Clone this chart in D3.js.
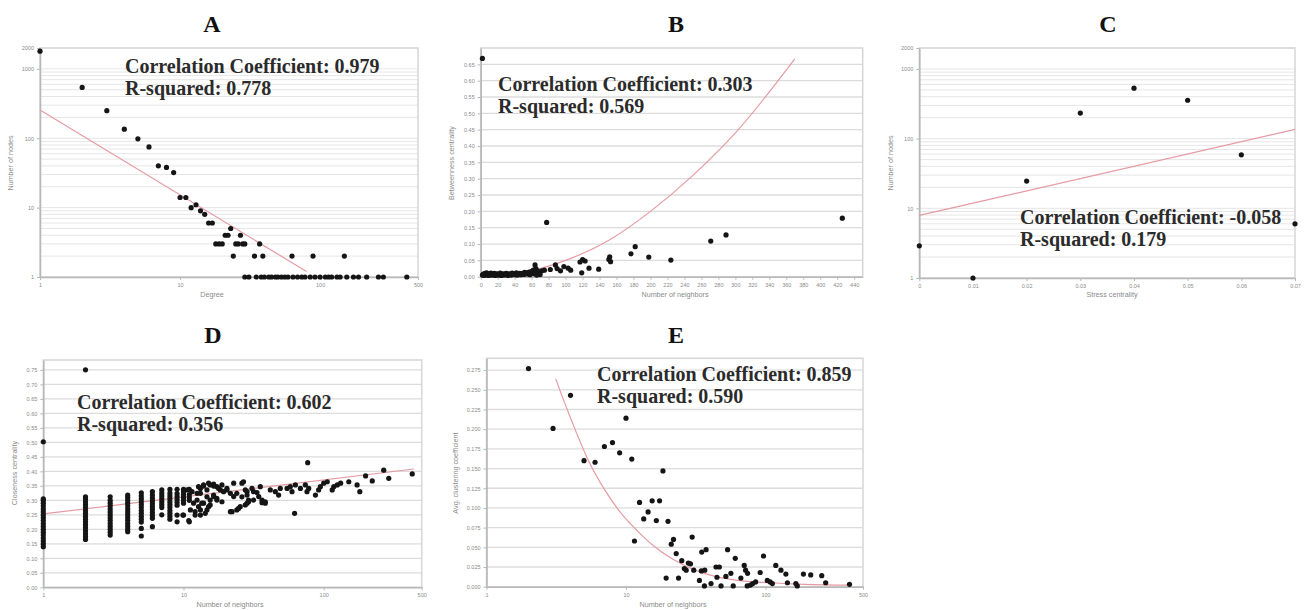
<!DOCTYPE html>
<html><head><meta charset="utf-8">
<script src="https://cdn.jsdelivr.net/npm/d3@7"></script>
<style>body{margin:0;background:#fff}</style>
</head><body>
<svg id="chart" width="1306" height="610"></svg>
<script>
// ---------------- DATA ----------------
const panelTitles = ["A", "B", "C", "D", "E"];
const statTexts = [
  ["Correlation Coefficient: 0.979", "R-squared: 0.778"],
  ["Correlation Coefficient: 0.303", "R-squared: 0.569"],
  ["Correlation Coefficient: -0.058", "R-squared: 0.179"],
  ["Correlation Coefficient: 0.602", "R-squared: 0.356"],
  ["Correlation Coefficient: 0.859", "R-squared: 0.590"]
];
const xAxisTitles = ["Degree", "Number of neighbors", "Stress centrality", "Number of neighbors", "Number of neighbors"];
const yAxisTitles = ["Number of nodes", "Betweenness centrality", "Number of nodes", "Closeness centrality", "Avg. clustering coefficient"];

// tick labels
const logCountTicks = [1, 10, 100, 1000, 2000];
const logNeighborTicks = [1, 10, 100, 500];
const betweenXTicks = [0,20,40,60,80,100,120,140,160,180,200,220,240,260,280,300,320,340,360,380,400,420,440];
const betweenYTicks = [0,0.05,0.10,0.15,0.20,0.25,0.30,0.35,0.40,0.45,0.50,0.55,0.60,0.65];
const stressXTicks = [0,0.01,0.02,0.03,0.04,0.05,0.06,0.07];
const closenessYTicks = [0,0.05,0.10,0.15,0.20,0.25,0.30,0.35,0.40,0.45,0.50,0.55,0.60,0.65,0.70,0.75];
const clusteringYTicks = [0,0.025,0.050,0.075,0.100,0.125,0.150,0.175,0.200,0.225,0.250,0.275];

// A: degree vs number of nodes
const degreePoints = [
  [1,1800],[2,540],[3,250],[4,135],[5,98],[6,75],[7,40],[8,38],[9,32],[10,14],[11,14],[12,10],[13,11],
  [14,9],[15,8],[16,6],[17,6],[18,3],[19,3],[20,3],[21,4],[22,4],[23,5],[24,2],[25,3],[26,3],[27,4],
  [28,3],[29,3],[34,2],[37,3],[39,2],[63,2],[89,2],[149,2],
  [29,1],[31,1],[35,1],[38,1],[40,1],[43,1],[45,1],[48,1],[50,1],[53,1],[56,1],[59,1],[64,1],[69,1],
  [74,1],[78,1],[85,1],[92,1],[100,1],[109,1],[115,1],[121,1],[132,1],[139,1],[155,1],[173,1],[188,1],
  [215,1],[261,1],[283,1],[416,1]
];
const degreeTrend = [[1,255],[80,1.2]];

// B: neighbors vs betweenness
const betweennessPoints = [
  [2,0.668],[2,0.005],[3,0.008],[4,0.004],[5,0.010],[6,0.006],[7,0.012],[8,0.007],[9,0.004],[10,0.009],
  [11,0.006],[12,0.011],[13,0.005],[14,0.008],[15,0.006],[16,0.010],[17,0.004],[18,0.007],[19,0.009],
  [20,0.005],[21,0.008],[22,0.006],[23,0.011],[24,0.004],[25,0.007],[26,0.009],[27,0.005],[28,0.008],
  [29,0.006],[30,0.010],[31,0.007],[32,0.004],[33,0.009],[34,0.006],[35,0.008],[36,0.005],[37,0.011],
  [38,0.007],[39,0.009],[40,0.006],[41,0.008],[42,0.012],[43,0.005],[44,0.009],[45,0.007],[46,0.010],
  [47,0.006],[48,0.008],[50,0.011],[51,0.007],[52,0.013],[53,0.009],[55,0.012],[56,0.008],[57,0.014],
  [58,0.006],[60,0.016],[61,0.011],[62,0.020],[63,0.009],[64,0.036],[65,0.025],[66,0.005],[67,0.018],
  [68,0.012],[70,0.007],[72,0.018],[75,0.020],
  [77.7,0.166],[82,0.022],[88,0.036],[90,0.025],[94,0.018],[98,0.031],[103,0.026],[106,0.020],
  [117,0.045],[120,0.052],[123,0.048],[119,0.012],[127.6,0.026],[139,0.023],[151,0.053],[152,0.061],
  [153,0.046],[177,0.070],[182,0.092],[198,0.060],[224,0.051],[271,0.109],[289,0.128],[426,0.179]
];
const betweennessTrend = [[0,0],[50,0.013],[100,0.05],[150,0.11],[200,0.2],[250,0.31],[300,0.44],[370,0.667]];

// C: stress centrality vs number of nodes
const stressX = [0, 0.01, 0.02, 0.03, 0.04, 0.05, 0.06, 0.07];
const stressNodes = [2.9, 1, 24.6, 233, 531, 356, 58.6, 6.0];
const stressTrend = [[0,7.9],[0.07,136]];

// D: neighbors vs closeness (vertical columns at low degrees + scatter)
const closenessColumns = [
  [1,[0.14,0.15,0.16,0.17,0.18,0.19,0.20,0.21,0.22,0.23,0.24,0.25,0.26,0.27,0.28,0.29,0.30,0.305,0.502]],
  [2,[0.165,0.175,0.185,0.195,0.205,0.215,0.225,0.235,0.245,0.255,0.265,0.275,0.285,0.295,0.305,0.312,0.75]],
  [3,[0.18,0.19,0.20,0.21,0.22,0.23,0.24,0.25,0.26,0.27,0.28,0.29,0.30,0.312]],
  [4,[0.192,0.20,0.21,0.22,0.23,0.24,0.25,0.26,0.27,0.28,0.29,0.30,0.31,0.318]],
  [5,[0.177,0.203,0.225,0.235,0.245,0.255,0.265,0.275,0.285,0.295,0.305,0.315,0.326]],
  [6,[0.209,0.238,0.248,0.258,0.268,0.278,0.288,0.298,0.308,0.318,0.330]],
  [7,[0.25,0.275,0.285,0.295,0.305,0.315,0.325,0.336]],
  [8,[0.235,0.245,0.255,0.265,0.275,0.285,0.295,0.305,0.315,0.325,0.338]],
  [9,[0.226,0.249,0.283,0.293,0.303,0.313,0.323,0.338]],
  [10,[0.249,0.29,0.30,0.31,0.32,0.33,0.338]],
  [11,[0.226,0.30,0.31,0.32,0.338]]
];
const closenessPoints = [
  [10.6,0.336],[11.5,0.330],[12.5,0.324],[13.2,0.341],[13.9,0.349],[14.7,0.336],[15.5,0.353],[16.4,0.356],
  [17.3,0.347],[18.3,0.336],[19.3,0.330],[20.4,0.341],[21.6,0.324],[22.8,0.313],[24,0.324],[26.1,0.359],
  [27.6,0.336],[28.4,0.318],[11.8,0.290],[12.8,0.278],[13.9,0.290],[15.5,0.301],[16.4,0.313],[14.7,0.267],
  [13.2,0.249],[12.1,0.261],[10.9,0.230],[9.9,0.249],[11.2,0.267],[17.3,0.307],[18.8,0.295],[21.6,0.261],
  [24,0.267],[25.4,0.278],[28.4,0.290],[29.1,0.301],[31.6,0.330],[33.4,0.327],[36.3,0.292],[38.3,0.295],
  [34.4,0.313],[12.8,0.347],[13.9,0.353],[15.1,0.359],[16.4,0.349],[17.8,0.341],[13.2,0.324],[14.7,0.312],
  [16.4,0.318],[12.5,0.301],[13.5,0.290],[15.1,0.278],[13.2,0.267],[12.1,0.249],[14.3,0.255],[15.5,0.284],
  [17.3,0.301],[18.8,0.353],[20.4,0.336],[22.8,0.359],[22.2,0.261],[24.7,0.272],[26.1,0.312],[26.8,0.364],
  [27.6,0.284],[28.4,0.330],[29.1,0.295],[30.8,0.341],[31.6,0.301],[35.3,0.347],[36.3,0.301],[38.3,0.290],
  [41.6,0.336],[45.2,0.330],[47.7,0.318],[49,0.341],[54.8,0.341],[57.8,0.347],[59.4,0.330],[62.8,0.353],
  [68.2,0.341],[74,0.353],[76.9,0.430],[76,0.330],[78.2,0.341],[87.3,0.318],[92,0.336],[94.7,0.347],
  [100,0.359],[106,0.364],[115,0.336],[118,0.347],[125,0.353],[132,0.359],[151,0.364],[173,0.353],
  [181,0.330],[199,0.384],[222,0.367],[268,0.404],[291,0.376],[428,0.391],[62,0.255]
];
const closenessTrend = [[1,0.253],[440,0.408]];

// E: neighbors vs average clustering coefficient
const clusteringPoints = [
  [2,0.277],[3,0.201],[4,0.243],[5,0.160],[6,0.158],[7,0.178],[8,0.183],[9,0.170],[10,0.214],[11,0.162],
  [11.5,0.058],[12.5,0.107],[13.4,0.086],[14.4,0.095],[15.4,0.109],[16.5,0.084],[17.4,0.109],[18.4,0.147],
  [19.4,0.011],[20,0.083],[21.1,0.054],[21.9,0.060],[22.9,0.042],[23.8,0.011],[25.1,0.033],[26.2,0.023],
  [27,0.021],[28,0.030],[29,0.029],[29.8,0.063],[30.6,0.021],[33.6,0.008],[34.9,0.044],[37.5,0.047],
  [34.7,0.020],[36.7,0.021],[36.5,0.001],[40.7,0.004],[44.2,0.025],[46.7,0.025],[44.9,0.012],[48,0.001],
  [52,0.013],[53.5,0.047],[56.5,0.017],[58.7,0.001],[60.7,0.036],[66.6,0.011],[70.4,0.027],[72,0.021],
  [74.4,0.017],[74,0.001],[78,0.002],[81,0.004],[85,0.006],[91.6,0.018],[96.8,0.039],[103,0.008],[108,0.006],
  [112,0.004],[118.5,0.027],[129,0.021],[140,0.016],[143.6,0.005],[165,0.004],[169,0.001],[187,0.016],
  [211,0.015],[253,0.014],[270,0.005],[400,0.003]
];
const clusteringTrend = [[3.13,0.264],[4.07,0.211],[5.35,0.161],[7.04,0.123],[9.25,0.093],[12.2,0.070],
  [16,0.051],[21.1,0.036],[27.7,0.025],[36.5,0.017],[63,0.008],[109,0.005],[189,0.003],[409,0.002]];

// ---------------- LAYOUT / DRAW ----------------
const svg = d3.select("#chart");
const DOT = "#151515", TREND = "#e59aa3";

const closenessAll = closenessColumns.flatMap(([x, ys]) => ys.map(v => [x, v])).concat(closenessPoints);

const panels = [
  { title: panelTitles[0], tx: 212, ty: 32, l: 40, r: 418, t: 48, b: 277,
    xType: "log", xDomain: [1, 500], xTicks: logNeighborTicks, xFmt: d3.format("d"),
    yType: "log", yDomain: [1, 2000], yTicks: logCountTicks, yFmt: d3.format("d"),
    points: degreePoints, trend: degreeTrend, curve: d3.curveLinear,
    stat: statTexts[0], sx: 125, sy: 73, xl: xAxisTitles[0], xlx: 212, xly: 297, yl: yAxisTitles[0], ylx: 13, yly: 163 },
  { title: panelTitles[1], tx: 676, ty: 32, l: 480.7, r: 862.7, t: 48, b: 276.7,
    xType: "lin", xDomain: [0, 450], xTicks: betweenXTicks, xFmt: d3.format("d"),
    yType: "lin", yDomain: [0, 0.70], yTicks: betweenYTicks, yFmt: d3.format(".2f"),
    points: betweennessPoints, trend: betweennessTrend, curve: d3.curveMonotoneX,
    stat: statTexts[1], sx: 498, sy: 91, xl: xAxisTitles[1], xlx: 675, xly: 297, yl: yAxisTitles[1], ylx: 454, yly: 163 },
  { title: panelTitles[2], tx: 1108, ty: 32, l: 919.3, r: 1295, t: 48, b: 278,
    xType: "lin", xDomain: [0, 0.07], xTicks: stressXTicks, xFmt: d => d === 0 ? "0" : d3.format(".2f")(d),
    yType: "log", yDomain: [1, 2000], yTicks: logCountTicks, yFmt: d3.format("d"),
    points: stressX.map((v, i) => [v, stressNodes[i]]), trend: stressTrend, curve: d3.curveLinear,
    stat: statTexts[2], sx: 1020, sy: 224, xl: xAxisTitles[2], xlx: 1112, xly: 297, yl: yAxisTitles[2], ylx: 893, yly: 163 },
  { title: panelTitles[3], tx: 213, ty: 343, l: 43.3, r: 421.7, t: 360, b: 587.3,
    xType: "log", xDomain: [1, 500], xTicks: logNeighborTicks, xFmt: d3.format("d"),
    yType: "lin", yDomain: [0, 0.784], yTicks: closenessYTicks, yFmt: d3.format(".2f"),
    points: closenessAll, trend: closenessTrend, curve: d3.curveLinear,
    stat: statTexts[3], sx: 77, sy: 409, xl: xAxisTitles[3], xlx: 230, xly: 607, yl: yAxisTitles[3], ylx: 17, yly: 473 },
  { title: panelTitles[4], tx: 676, ty: 343, l: 486.5, r: 863, t: 358.3, b: 586.7,
    xType: "log", xDomain: [1, 500], xTicks: logNeighborTicks, xFmt: d3.format("d"),
    yType: "lin", yDomain: [0, 0.29], yTicks: clusteringYTicks, yFmt: d3.format(".3f"),
    points: clusteringPoints, trend: clusteringTrend, curve: d3.curveMonotoneX,
    stat: statTexts[4], sx: 597, sy: 381, xl: xAxisTitles[4], xlx: 673, xly: 607, yl: yAxisTitles[4], ylx: 458, yly: 473 }
];

function drawPanel(p) {
  const g = svg.append("g");
  const x = (p.xType === "log" ? d3.scaleLog() : d3.scaleLinear()).domain(p.xDomain).range([p.l, p.r]);
  const y = (p.yType === "log" ? d3.scaleLog() : d3.scaleLinear()).domain(p.yDomain).range([p.b, p.t]);

  // title
  g.append("text").attr("x", p.tx).attr("y", p.ty).attr("text-anchor", "middle")
    .attr("font-family", "Liberation Serif, serif").attr("font-weight", "bold").attr("font-size", 24)
    .attr("fill", "#111").text(p.title);

  // horizontal gridlines
  const grid = p.yType === "log" ? y.ticks() : p.yTicks;
  g.append("g").selectAll("line").data(grid).join("line")
    .attr("x1", p.l).attr("x2", p.r).attr("y1", d => y(d)).attr("y2", d => y(d))
    .attr("stroke", p.yType === "log" ? "#e6e6e6" : "#dcdcdc").attr("stroke-width", p.yType === "log" ? 1 : 1.3);

  // frame
  g.append("rect").attr("x", p.l).attr("y", p.t).attr("width", p.r - p.l).attr("height", p.b - p.t)
    .attr("fill", "none").attr("stroke", "#d6d6d6").attr("stroke-width", 1.5);

  // axes
  const styleAxis = sel => {
    sel.select(".domain").attr("stroke", "#b8b8b8").attr("stroke-width", 1.6);
    sel.selectAll(".tick line").attr("stroke", "#b8b8b8");
    sel.selectAll(".tick text").attr("fill", "#8a8a8a").attr("font-size", 5.5)
      .attr("font-family", "Liberation Sans, Arial, sans-serif");
  };
  g.append("g").attr("transform", `translate(${p.l},0)`)
    .call(d3.axisLeft(y).tickValues(p.yTicks).tickFormat(p.yFmt).tickSize(3).tickSizeOuter(0)).call(styleAxis);
  g.append("g").attr("transform", `translate(0,${p.b})`)
    .call(d3.axisBottom(x).tickValues(p.xTicks).tickFormat(p.xFmt).tickSize(3).tickSizeOuter(0)).call(styleAxis);

  // axis titles
  g.append("text").attr("x", p.xlx).attr("y", p.xly).attr("text-anchor", "middle")
    .attr("font-family", "Liberation Sans, Arial, sans-serif").attr("font-size", 7.2).attr("fill", "#8a8a8a").text(p.xl);
  g.append("text").attr("transform", `translate(${p.ylx},${p.yly}) rotate(-90)`).attr("text-anchor", "middle")
    .attr("font-family", "Liberation Sans, Arial, sans-serif").attr("font-size", 7.2).attr("fill", "#8a8a8a").text(p.yl);

  // trend line
  const line = d3.line().x(d => x(d[0])).y(d => y(d[1])).curve(p.curve);
  g.append("path").attr("d", line(p.trend)).attr("fill", "none").attr("stroke", TREND).attr("stroke-width", 1.2);

  // points
  g.append("g").selectAll("circle").data(p.points).join("circle")
    .attr("cx", d => x(d[0])).attr("cy", d => y(d[1])).attr("r", 2.6).attr("fill", DOT);

  // statistics text
  const st = g.append("text").attr("font-family", "Liberation Serif, serif").attr("font-weight", "bold")
    .attr("font-size", 20).attr("fill", "#2b2b2b");
  st.append("tspan").attr("x", p.sx).attr("y", p.sy).text(p.stat[0]);
  st.append("tspan").attr("x", p.sx).attr("y", p.sy + 22).text(p.stat[1]);
}

panels.forEach(drawPanel);
</script>
</body></html>
